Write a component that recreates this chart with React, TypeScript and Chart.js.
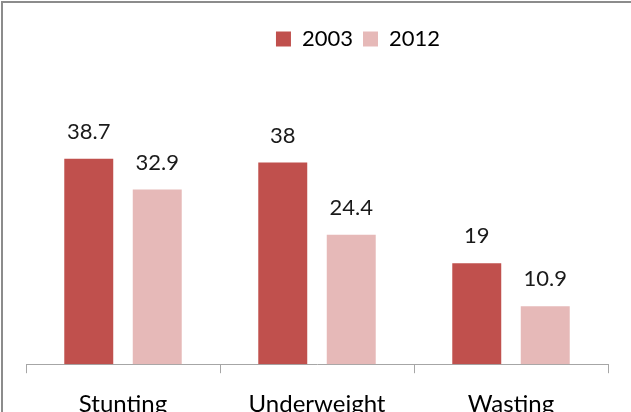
import React, { useEffect, useRef } from "react";
import { Chart, registerables } from "chart.js";

Chart.register(...registerables);

const categories = ["Stunting", "Underweight", "Wasting"];
const seriesNames = ["2003", "2012"];
const values2003 = [38.7, 38, 19];
const values2012 = [32.9, 24.4, 10.9];
const colors = ["#C0504D", "#E6B9B8"];

const valueLabels = {
  id: "valueLabels",
  afterDatasetsDraw(chart: any) {
    const ctx = chart.ctx;
    ctx.save();
    ctx.font = "22px Lato";
    ctx.fillStyle = "#1a1a1a";
    ctx.textAlign = "center";
    ctx.textBaseline = "middle";
    chart.data.datasets.forEach((ds: any, i: number) => {
      const meta = chart.getDatasetMeta(i);
      meta.data.forEach((el: any, j: number) => {
        ctx.fillText(String(ds.data[j]), el.x, el.y - 27);
      });
    });
    ctx.restore();
  },
};

export default function App() {
  const ref = useRef<HTMLCanvasElement>(null);
  useEffect(() => {
    if (!ref.current) return;
    const chart = new Chart(ref.current, {
      type: "bar",
      data: {
        labels: categories,
        datasets: [
          { label: seriesNames[0], data: values2003, backgroundColor: colors[0] },
          { label: seriesNames[1], data: values2012, backgroundColor: colors[1] },
        ],
      },
      options: {
        animation: false,
        responsive: false,
        layout: { padding: { left: 23, right: 13, top: 15, bottom: 27 } },
        datasets: { bar: { categoryPercentage: 0.706, barPercentage: 0.715 } } as any,
        plugins: {
          legend: {
            position: "top",
            labels: {
              boxWidth: 15,
              boxHeight: 15,
              padding: 10,
              color: "#000",
              font: { family: "Lato", size: 22 },
            },
          },
          tooltip: { enabled: false },
        },
        scales: {
          x: {
            grid: {
              display: true,
              drawOnChartArea: false,
              drawTicks: true,
              tickLength: 9,
              color: "#a6a6a6",
              offset: true,
            },
            border: { display: true, color: "#a6a6a6", width: 1 },
            ticks: {
              color: "#000",
              padding: 17,
              font: { family: "Lato", size: 24 },
            },
          },
          y: {
            display: true,
            position: "right",
            min: 0,
            max: 57.3,
            grid: { display: false, drawTicks: false },
            border: { display: false },
            ticks: { display: false },
            afterFit: (scale: any) => {
              scale.width = 82;
            },
          },
        },
      },
      plugins: [valueLabels],
    });
    return () => chart.destroy();
  }, []);
  return (
    <div
      style={{
        position: "absolute",
        left: 1,
        top: 1,
        width: 700,
        height: 460,
        border: "2px solid #8c8c8c",
        background: "#fff",
      }}
    >
      <canvas ref={ref} width={700} height={460} style={{ display: "block" }} />
    </div>
  );
}
